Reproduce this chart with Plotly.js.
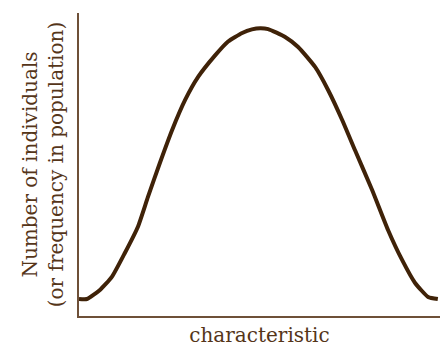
<!DOCTYPE html>
<html>
<head>
<meta charset="utf-8">
<script src="https://cdn.plot.ly/plotly-3.0.1.min.js"></script>
<style>html,body{margin:0;padding:0;background:#fff;}#chart{width:446px;height:348px;}</style>
</head>
<body>
<div id="chart"></div>
<script>
const characteristic = [0, 2.2, 5.8, 9.1, 12.7, 16.3, 19.1, 22.4, 25.8, 29.4, 33.0, 37.7, 41.3, 45.2, 47.9, 50.2, 52.4, 57.1, 60.7, 65.4, 69.0, 72.9, 76.5, 81.2, 85.6, 89.5, 93.1, 96.7, 99.4];
const individuals = [5.6, 5.6, 8.6, 12.9, 20.8, 29.4, 39.3, 50.5, 61.4, 71.3, 78.9, 86.0, 90.6, 93.4, 94.6, 95.0, 94.7, 92.1, 88.8, 82.2, 74.6, 64.7, 54.6, 41.6, 28.4, 18.5, 10.9, 6.3, 5.6];
const xTitle = "characteristic";
const yTitle = "Number of individuals<br>(or frequency in population)";

const textColor = "#553519";
const axisColor = "#6e5038";
const font = "DejaVu Serif, serif";

Plotly.newPlot("chart", [{
  x: characteristic,
  y: individuals,
  type: "scatter",
  mode: "lines",
  line: {color: "#3f2208", width: 4, shape: "spline", smoothing: 0.5},
  hoverinfo: "skip"
}], {
  width: 446, height: 348,
  margin: {l: 79, r: 6, t: 13, b: 32, pad: 0},
  paper_bgcolor: "#ffffff", plot_bgcolor: "#ffffff",
  showlegend: false,
  font: {family: font, color: textColor, size: 20},
  xaxis: {
    range: [0, 100], showgrid: false, zeroline: false,
    showline: true, linecolor: axisColor, linewidth: 2,
    showticklabels: false, ticks: "",
    title: {text: xTitle, font: {family: font, size: 20, color: textColor}, standoff: 11}
  },
  yaxis: {
    range: [0, 100], showgrid: false, zeroline: false,
    showline: true, linecolor: axisColor, linewidth: 2,
    showticklabels: false, ticks: "",
    title: {text: yTitle, font: {family: font, size: 20, color: textColor}, standoff: 8}
  }
}, {staticPlot: true, displayModeBar: false});
</script>
</body>
</html>
